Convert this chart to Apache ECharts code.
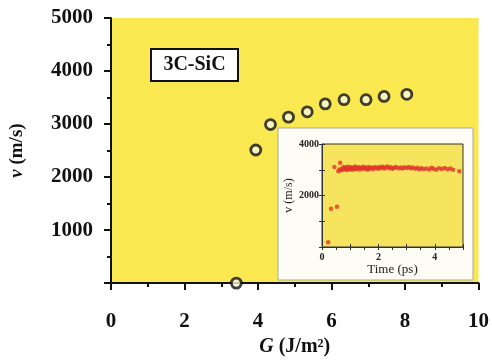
<!DOCTYPE html>
<html>
<head>
<meta charset="utf-8">
<script src="https://cdn.jsdelivr.net/npm/echarts@6/dist/echarts.min.js"></script>
<style>
  html, body { margin: 0; padding: 0; background: #fff; }
  #chart { width: 492px; height: 362px; }
</style>
</head>
<body>
<div id="chart"></div>
<script>
// main plot: crack speed vs energy release rate
const gValues = [3.41, 3.94, 4.34, 4.83, 5.34, 5.83, 6.34, 6.94, 7.43, 8.05];
const vValues = [0, 2510, 2990, 3130, 3230, 3380, 3460, 3460, 3520, 3560];
const mainXTicks = [0, 2, 4, 6, 8, 10];
const mainYTicks = [0, 1000, 2000, 3000, 4000, 5000];

// inset: crack speed vs time
const insetTime = [0.22, 0.32, 0.53, 0.44, 0.64, 0.58, 0.62, 0.68, 0.72, 0.75, 0.78, 0.82, 0.85, 0.88,
  0.92, 0.95, 0.98, 1.02, 1.05, 1.08, 1.12, 1.15, 1.18, 1.22, 1.25, 1.3, 1.34, 1.38, 1.42, 1.46,
  1.5, 1.54, 1.58, 1.62, 1.66, 1.7, 1.75, 1.8, 1.85, 1.9, 1.95, 2.0, 2.05, 2.1, 2.15, 2.2, 2.26,
  2.32, 2.38, 2.44, 2.5, 2.56, 2.62, 2.7, 2.78, 2.85, 2.92, 3.0, 3.08, 3.15, 3.22, 3.3, 3.38,
  3.45, 3.52, 3.6, 3.7, 3.8, 3.88, 3.95, 4.05, 4.15, 4.25, 4.35, 4.45, 4.55, 4.65, 4.87];
const insetSpeed = [180, 1490, 1560, 3110, 3270, 2940, 3010, 2980, 3060, 3000, 3110, 3030, 3080, 2990,
  3120, 3050, 3010, 3100, 3060, 3000, 3090, 3040, 3130, 3020, 3070, 3100, 3010, 3080, 3050, 3120,
  3030, 3090, 3060, 3000, 3110, 3050, 3080, 3020, 3100, 3060, 3090, 3040, 3110, 3070, 3120, 3050, 3090,
  3130, 3060, 3100, 3040, 3080, 3110, 3060, 3090, 3050, 3100, 3070, 3110, 3060, 3090, 3040, 3080,
  3020, 3060, 3030, 3050, 3010, 3080, 3040, 3000, 3060, 3030, 3070, 3020, 3050, 3000, 2940];
const insetXTicks = [0, 2, 4];
const insetYTicks = [2000, 4000];

const serif = '"Liberation Serif", "DejaVu Serif", serif';

const chart = echarts.init(document.getElementById('chart'));

const option = {
  animation: false,
  grid: [
    {
      left: 108, top: 18, width: 371, height: 268,
      show: true, backgroundColor: '#f9e84f', borderWidth: 0, z: 0
    },
    {
      left: 322, top: 144, width: 141, height: 103,
      show: true, backgroundColor: '#f6e45e', borderColor: '#333', borderWidth: 1, z: 5
    }
  ],
  graphic: [
    {
      type: 'rect', z: 3,
      shape: { x: 278, y: 128, width: 195, height: 152 },
      style: { fill: '#fdfdf6', stroke: '#a9a9a0', lineWidth: 1 }
    },
    {
      type: 'group', z: 10,
      children: [
        {
          type: 'rect',
          shape: { x: 151, y: 49, width: 87, height: 32 },
          style: { fill: '#fff', stroke: '#111', lineWidth: 2 }
        },
        {
          type: 'text',
          x: 194.5, y: 65,
          style: {
            text: '3C-SiC', fill: '#111', font: 'bold 20px ' + serif,
            align: 'center', verticalAlign: 'middle'
          }
        }
      ]
    }
  ],
  xAxis: [
    {
      gridIndex: 0, type: 'value', min: 0, max: 10, interval: 2,
      name: '{i|G} (J/m²)', nameLocation: 'middle', nameGap: 51,
      nameTextStyle: {
        fontFamily: serif, fontWeight: 'bold', fontSize: 20, color: '#111',
        rich: { i: { fontFamily: serif, fontWeight: 'bold', fontStyle: 'italic', fontSize: 20, color: '#111' } }
      },
      axisLine: { show: true, onZero: false, lineStyle: { color: '#111', width: 2 } },
      axisTick: { show: true, inside: false, length: 7, lineStyle: { color: '#111', width: 2 } },
      minorTick: { show: true, splitNumber: 2, length: 4, lineStyle: { color: '#111', width: 2 } },
      axisLabel: {
        margin: 28, fontFamily: serif, fontWeight: 'bold', fontSize: 21, color: '#111',
        formatter: v => mainXTicks.includes(v) ? String(v) : ''
      },
      splitLine: { show: false }
    },
    {
      gridIndex: 1, type: 'value', min: 0, max: 5, interval: 1,
      name: 'Time (ps)', nameLocation: 'middle', nameGap: 14,
      nameTextStyle: { fontFamily: serif, fontSize: 13, color: '#222' },
      axisLine: { show: true, onZero: false, lineStyle: { color: '#333', width: 1 } },
      axisTick: { show: true, inside: true, length: 3, lineStyle: { color: '#333' } },
      axisLabel: {
        margin: 5, fontFamily: serif, fontWeight: 'bold', fontSize: 10, color: '#222',
        formatter: v => insetXTicks.includes(v) ? String(v) : ''
      },
      splitLine: { show: false }, z: 6
    },
    {
      gridIndex: 1, type: 'value', min: 0, max: 5, interval: 0.5, position: 'top',
      axisLine: { show: false },
      axisTick: { show: true, inside: true, length: 3, lineStyle: { color: '#333' } },
      axisLabel: { show: false },
      splitLine: { show: false }, z: 6
    }
  ],
  yAxis: [
    {
      gridIndex: 0, type: 'value', min: 0, max: 5000, interval: 1000,
      name: '{i|v} (m/s)', nameLocation: 'middle', nameGap: 84, nameRotate: 90,
      nameTextStyle: {
        fontFamily: serif, fontWeight: 'bold', fontSize: 19, color: '#111',
        rich: { i: { fontFamily: serif, fontWeight: 'bold', fontStyle: 'italic', fontSize: 19, color: '#111' } }
      },
      axisLine: { show: true, onZero: false, lineStyle: { color: '#111', width: 2 } },
      axisTick: { show: true, inside: false, length: 7, lineStyle: { color: '#111', width: 2 } },
      minorTick: { show: true, splitNumber: 2, length: 4, lineStyle: { color: '#111', width: 2 } },
      axisLabel: {
        margin: 18, fontFamily: serif, fontWeight: 'bold', fontSize: 21, color: '#111',
        formatter: v => (mainYTicks.includes(v) && v > 0) ? String(v) : ''
      },
      splitLine: { show: false }
    },
    {
      gridIndex: 1, type: 'value', min: 0, max: 4000, interval: 1000,
      name: 'v (m/s)', nameLocation: 'middle', nameGap: 23, nameRotate: 90,
      nameTextStyle: { fontFamily: serif, fontSize: 12, color: '#222' },
      axisLine: { show: true, onZero: false, lineStyle: { color: '#333', width: 1 } },
      axisTick: { show: true, inside: true, length: 3, lineStyle: { color: '#333' } },
      axisLabel: {
        margin: 3, fontFamily: serif, fontWeight: 'bold', fontSize: 10, color: '#222',
        formatter: v => insetYTicks.includes(v) ? String(v) : ''
      },
      splitLine: { show: false }, z: 6
    },
    {
      gridIndex: 1, type: 'value', min: 0, max: 4000, interval: 1000, position: 'right',
      axisLine: { show: false },
      axisTick: { show: true, inside: true, length: 3, lineStyle: { color: '#333' } },
      axisLabel: { show: false },
      splitLine: { show: false }, z: 6
    }
  ],
  series: [
    {
      type: 'scatter', xAxisIndex: 0, yAxisIndex: 0,
      data: gValues.map((g, i) => [g, vValues[i]]),
      symbol: 'circle', symbolSize: 10,
      itemStyle: { color: '#fbf6d8', borderColor: '#111', borderWidth: 2.8 },
      clip: false, z: 4
    },
    {
      type: 'scatter', xAxisIndex: 1, yAxisIndex: 1,
      data: insetTime.map((t, i) => [t, insetSpeed[i]]),
      symbol: 'circle', symbolSize: 4.5,
      itemStyle: { color: '#e2342c' },
      z: 7
    }
  ]
};

chart.setOption(option);
</script>
</body>
</html>
